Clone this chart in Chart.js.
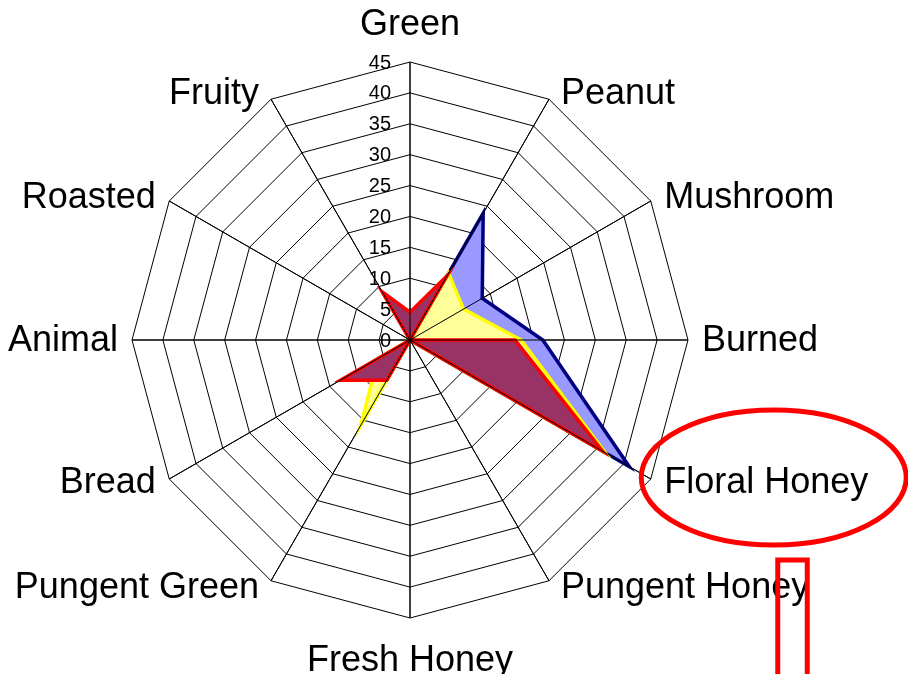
<!DOCTYPE html>
<html>
<head>
<meta charset="utf-8">
<title>Aroma profile</title>
<script src="https://cdn.jsdelivr.net/npm/chart.js"></script>
<style>
  html, body { margin: 0; padding: 0; background: #fff; }
  #wrap { position: relative; width: 908px; height: 674px; }
</style>
</head>
<body>
<div id="wrap"><canvas id="radar"></canvas></div>
<script>
// categories, clockwise from the top
const categories = ['Green', 'Peanut', 'Mushroom', 'Burned', 'Floral Honey', 'Pungent Honey',
  'Fresh Honey', 'Pungent Green', 'Bread', 'Animal', 'Roasted', 'Fruity'];

// values
const serie1 = [4.5, 12, 0, 17, 36, 0, 0, 7.5, 13, 0, 0, 9];       // maroon / red
const serie2 = [0, 12.5, 10, 18, 36.5, 0, 0, 16, 6, 0, 0, 0];      // yellow
const serie3 = [0, 23.7, 13.5, 21.5, 41, 0, 0, 0, 0, 0, 0, 0];     // blue

// axis
const axisMin = 0;
const axisMax = 45;
const axisStep = 5;

const labelFont = '36px "Liberation Sans", Arial, sans-serif';
const tickFont = '20px "Liberation Sans", Arial, sans-serif';

// spokes on top of the areas, own tick labels and category labels, plus the red marks
const overlay = {
  id: 'overlay',
  afterDatasetsDraw(chart) {
    const r = chart.scales.r;
    const ctx = chart.ctx;
    ctx.save();
    ctx.strokeStyle = '#000';
    ctx.lineWidth = 1;
    categories.forEach((c, i) => {
      const p = r.getPointPosition(i, r.drawingArea);
      ctx.beginPath();
      ctx.moveTo(r.xCenter, r.yCenter);
      ctx.lineTo(p.x, p.y);
      ctx.stroke();
    });

    // tick labels to the left of the vertical axis
    ctx.fillStyle = '#000';
    ctx.font = tickFont;
    ctx.textAlign = 'right';
    ctx.textBaseline = 'middle';
    r.ticks.forEach(t => {
      ctx.fillText(String(t.value), r.xCenter - 19, r.yCenter - r.getDistanceFromCenterForValue(t.value) + 1);
    });

    // category labels
    ctx.font = labelFont;
    let floral = null;
    categories.forEach((c, i) => {
      const p = r.getPointPosition(i, r.drawingArea);
      const a = i * 2 * Math.PI / categories.length;
      const s = Math.sin(a), co = Math.cos(a);
      let x = p.x, y = p.y + 2, align = 'center';
      if (Math.abs(s) < 0.01) {
        y += co > 0 ? -39 : 41;
      } else {
        align = s > 0 ? 'left' : 'right';
        x += Math.sign(s) * (10 + 4 * Math.abs(s));
        y += -7 * co - 1;
      }
      ctx.textAlign = align;
      ctx.fillText(c, x, y);
      if (c === 'Floral Honey') floral = { x: x, y: y, w: ctx.measureText(c).width };
    });

    // red highlight round "Floral Honey" and the box under it
    if (floral) {
      const cx = floral.x + floral.w / 2 + 7.5;
      const cy = floral.y - 6;
      ctx.strokeStyle = '#ff0000';
      ctx.lineWidth = 5;
      ctx.beginPath();
      ctx.ellipse(cx, cy, 132.5, 67.5, 0, 0, Math.PI * 2);
      ctx.stroke();
      ctx.strokeRect(cx + 4, cy + 82.5, 29.5, 140);
    }
    ctx.restore();
  }
};

new Chart(document.getElementById('radar').getContext('2d'), {
  type: 'radar',
  data: {
    labels: categories,
    datasets: [
      {
        label: 'Serie 1',
        data: serie1,
        borderColor: '#ff0000',
        backgroundColor: '#993366',
        fill: true
      },
      {
        label: 'Serie 2',
        data: serie2,
        borderColor: '#ffff00',
        backgroundColor: '#ffff99',
        fill: true
      },
      {
        label: 'Serie 3',
        data: serie3,
        borderColor: '#000080',
        backgroundColor: '#9999ff',
        fill: true
      }
    ]
  },
  options: {
    responsive: true,
    maintainAspectRatio: false,
    animation: false,
    layout: { padding: { left: 132, right: 220, top: 62, bottom: 56 } },
    plugins: {
      legend: { display: false },
      tooltip: { enabled: false }
    },
    elements: {
      line: { tension: 0, borderWidth: 3.5, borderJoinStyle: 'miter' },
      point: { radius: 0, hoverRadius: 0 }
    },
    scales: {
      r: {
        min: axisMin,
        max: axisMax,
        ticks: { stepSize: axisStep, display: false },
        pointLabels: { display: false },
        grid: { color: '#000', lineWidth: 1 },
        angleLines: { color: '#000', lineWidth: 1 }
      }
    }
  },
  plugins: [overlay]
});
</script>
</body>
</html>
